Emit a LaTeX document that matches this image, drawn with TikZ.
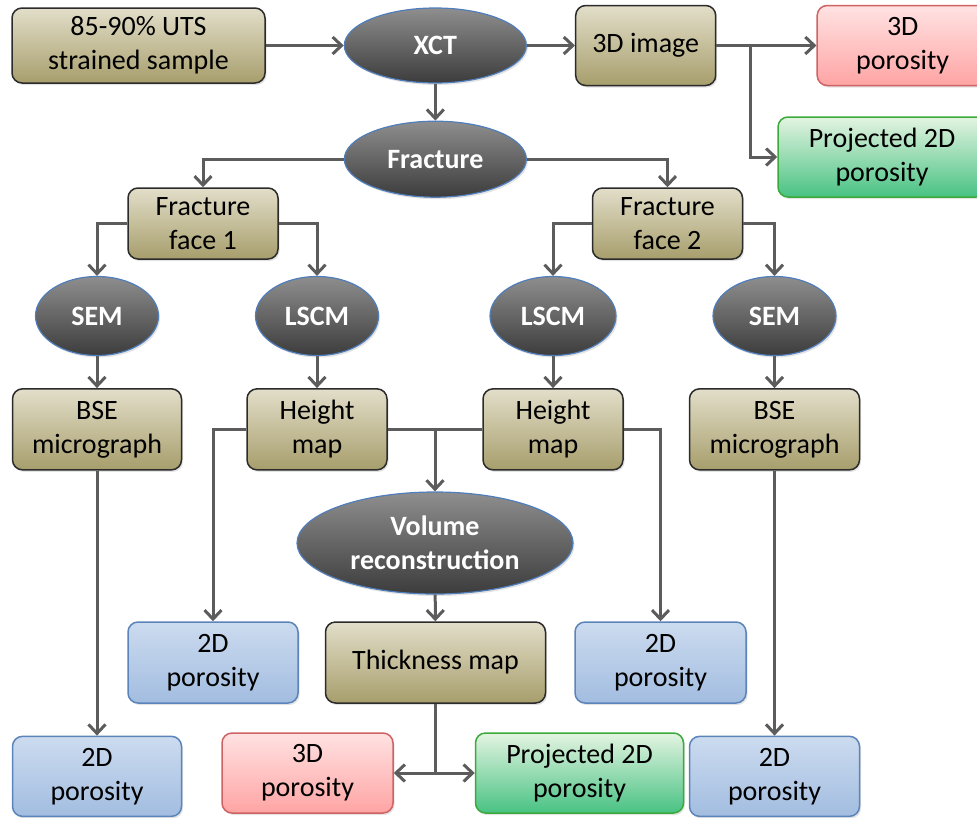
\documentclass[tikz,border=0pt]{standalone}
\usepackage{fontspec}
\setmainfont{Carlito}
\usetikzlibrary{arrows.meta,positioning,shapes.geometric,shadows}

\definecolor{tantop}{HTML}{E2DEC9}
\definecolor{tanbot}{HTML}{A79E6C}
\definecolor{tanline}{HTML}{2B2B2B}
\definecolor{bluetop}{HTML}{CCDBEF}
\definecolor{bluebot}{HTML}{A2BDE0}
\definecolor{blueline}{HTML}{5B84BA}
\definecolor{redtop}{HTML}{FFE2E2}
\definecolor{redbot}{HTML}{FFA4A4}
\definecolor{redline}{HTML}{CF6363}
\definecolor{greentop}{HTML}{E4F4E1}
\definecolor{greenbot}{HTML}{48C283}
\definecolor{greenline}{HTML}{3BAA3B}
\definecolor{optop}{HTML}{8E8E8E}
\definecolor{opbot}{HTML}{3C3C3C}
\definecolor{opline}{HTML}{4F7EBB}
\definecolor{flowgray}{HTML}{5C5C5C}

\begin{document}
\begin{tikzpicture}[
  x=1pt, y=-1pt,
  font=\fontsize{28}{34}\selectfont,
  box/.style={
    rounded corners=10pt,
    line width=1.5pt,
    align=center,
    inner sep=2pt,
    minimum height=80pt,
    drop shadow={opacity=0.22, shadow xshift=1.5pt, shadow yshift=-2pt}
  },
  tanbox/.style={box, draw=tanline, top color=tantop, bottom color=tanbot},
  bluebox/.style={box, draw=blueline, top color=bluetop, bottom color=bluebot},
  redbox/.style={box, draw=redline, top color=redtop, bottom color=redbot},
  greenbox/.style={box, draw=greenline, top color=greentop, bottom color=greenbot},
  method/.style={
    ellipse,
    draw=opline,
    line width=1.2pt,
    top color=optop,
    bottom color=opbot,
    text=white,
    align=center,
    inner sep=0pt,
    font=\fontsize{28}{34}\selectfont\bfseries,
    drop shadow={opacity=0.22, shadow xshift=1.5pt, shadow yshift=-2pt}
  },
  probe/.style={method, minimum width=123pt, minimum height=79pt},
  flow/.style={-{Straight Barb[length=9pt,width=17pt]}, line width=3pt, draw=flowgray},
  link/.style={line width=3pt, draw=flowgray}
]
  \useasboundingbox (0,0) rectangle (977,817);

  % top row
  \node[tanbox, minimum width=253pt, minimum height=75pt] (sample) at (138.5,45.5) {85-90\% UTS\\strained sample};
  \node[method, minimum width=182pt, minimum height=75pt, right=78pt of sample] (xct) {XCT};
  \node[tanbox, minimum width=140pt, right=48pt of xct] (img3d) {3D image};
  \node[redbox, minimum width=171pt, right=100pt of img3d] (por3dtop) {3D\\porosity};
  \node[greenbox, minimum width=208pt] (proj2dtop) at (882,157) {Projected 2D\\porosity};

  % fracture faces
  \node[method, minimum width=182pt, minimum height=76pt, below=37pt of xct] (fracture) {Fracture};
  \node[tanbox, minimum width=150pt, minimum height=71pt] (face1) at (203,223.5) {Fracture\\face 1};
  \node[tanbox, minimum width=150pt, minimum height=71pt] (face2) at (667.5,223.5) {Fracture\\face 2};

  \node[probe] (sem1) at (97,316) {SEM};
  \node[probe] (lscm1) at (317,316) {LSCM};
  \node[probe, minimum width=126pt] (lscm2) at (553,316) {LSCM};
  \node[probe] (sem2) at (774.5,316) {SEM};

  \node[tanbox, minimum width=169pt, minimum height=81pt, below=32pt of sem1] (bse1) {BSE\\micrograph};
  \node[tanbox, minimum width=140pt, minimum height=81pt, below=32pt of lscm1] (hmap1) {Height\\map};
  \node[tanbox, minimum width=140pt, minimum height=81pt, below=32pt of lscm2] (hmap2) {Height\\map};
  \node[tanbox, minimum width=170pt, minimum height=81pt, below=32pt of sem2] (bse2) {BSE\\micrograph};

  % volume branch
  \node[method, minimum width=276pt, minimum height=102pt] (vol) at (435,543) {Volume\\reconstruction};
  \node[bluebox, minimum width=170pt, minimum height=81pt] (por2da) at (213,662.5) {2D\\porosity};
  \node[tanbox, minimum width=220pt, minimum height=81pt, right=26pt of por2da] (thick) {Thickness map};
  \node[bluebox, minimum width=171pt, minimum height=81pt, right=28pt of thick] (por2db) {2D\\porosity};

  % bottom row
  \node[bluebox, minimum width=169pt, below=265pt of bse1] (por2dc) {2D\\porosity};
  \node[redbox, minimum width=171pt] (por3db) at (307.5,773) {3D\\porosity};
  \node[greenbox, minimum width=208pt, right=81pt of por3db] (proj2db) {Projected 2D\\porosity};
  \node[bluebox, minimum width=170pt, below=265pt of bse2] (por2dd) {2D\\porosity};

  \draw[flow] (sample) -- (xct);
  \draw[flow] (xct) -- (img3d);
  \draw[flow] (img3d) -- (por3dtop);
  \draw[flow] ([xshift=34pt]img3d.east) |- (proj2dtop);
  \draw[flow] (xct) -- (fracture);
  \draw[flow] (fracture) -| (face1);
  \draw[flow] (fracture) -| (face2);

  \draw[flow] (face1) -| (sem1);
  \draw[flow] (face1) -| (lscm1);
  \draw[flow] (face2) -| (lscm2);
  \draw[flow] (face2) -| (sem2);

  \draw[flow] (sem1) -- (bse1);
  \draw[flow] (lscm1) -- (hmap1);
  \draw[flow] (lscm2) -- (hmap2);
  \draw[flow] (sem2) -- (bse2);

  \draw[flow] (bse1) -- (por2dc);
  \draw[flow] (bse2) -- (por2dd);
  \draw[flow] (hmap1) -| (por2da);
  \draw[flow] (hmap2) -| (por2db);
  \draw[link] (hmap1) -- (hmap2);
  \draw[flow] (hmap1.east -| vol.north) -- (vol);
  \draw[flow] (vol) -- (thick);
  \draw[flow] (thick.south) |- (por3db);
  \draw[flow] (thick.south) |- (proj2db);
\end{tikzpicture}
\end{document}
